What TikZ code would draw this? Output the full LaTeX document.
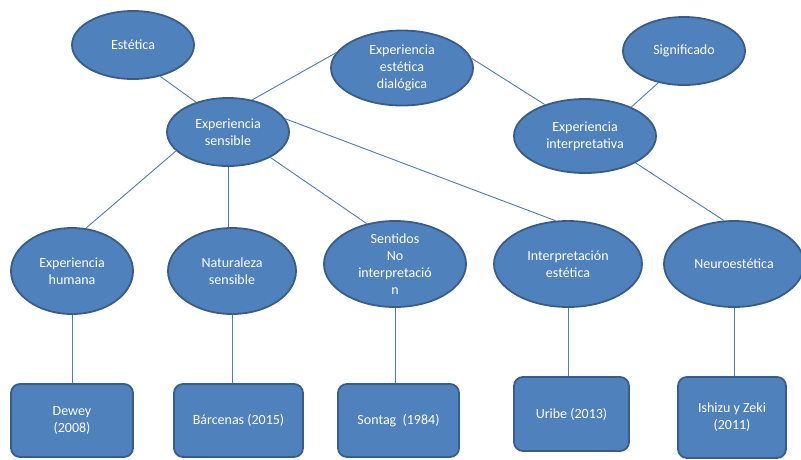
\documentclass[tikz,border=0pt]{standalone}
\usepackage{fontspec}
\setmainfont{Carlito}
\usetikzlibrary{shapes.geometric}
\definecolor{fillblue}{HTML}{4F81BD}
\definecolor{edgeblue}{HTML}{385D8A}
\definecolor{linkblue}{HTML}{4A7EBB}
\begin{document}
\begin{tikzpicture}[x=1pt,y=-1pt,
 every node/.style={text=white,font=\fontsize{14}{17}\selectfont,align=center,inner sep=0pt},
 oval/.style={ellipse,fill=fillblue,draw=edgeblue,line width=1.8pt},
 card/.style={rectangle,rounded corners=9pt,fill=fillblue,draw=edgeblue,line width=1.8pt},
 link/.style={draw=linkblue,line width=0.9pt}]
\useasboundingbox (0,0) rectangle (801,459);
% ovals
\node[oval,minimum width=122,minimum height=68,label=center:{Estética}] (est) at (133,45) {};
\node[oval,minimum width=142,minimum height=75,label=center:{Experiencia\\estética\\dialógica}] (dia) at (402,68) {};
\node[oval,minimum width=122,minimum height=68,label=center:{Experiencia\\sensible}] (sens) at (228,132) {};
\node[oval,minimum width=122,minimum height=68,label=center:{Significado}] (sig) at (684,51) {};
\node[oval,minimum width=142,minimum height=74,label=center:{Experiencia\\interpretativa}] (inter) at (585,136) {};
\node[oval,minimum width=122,minimum height=86,label=center:{Experiencia\\humana}] (hum) at (72,271) {};
\node[oval,minimum width=128,minimum height=86,label=center:{Naturaleza\\sensible}] (nat) at (232,271) {};
\node[oval,minimum width=142,minimum height=86,label=center:{Sentidos\\No\\interpretació\\n}] (sen) at (395,264) {};
\node[oval,minimum width=148,minimum height=86,label=center:{Interpretación\\estética}] (ies) at (568,264) {};
\node[oval,minimum width=140,minimum height=86,label=center:{Neuroestética}] (neu) at (734,264) {};
% boxes
\node[card,minimum width=122,minimum height=73] (dew) at (72,420.5) {Dewey\\(2008)};
\node[card,minimum width=129,minimum height=73] (bar) at (238.5,420.5) {Bárcenas (2015)};
\node[card,minimum width=121,minimum height=73] (son) at (398.5,420.5) {Sontag~ (1984)};
\node[card,minimum width=115,minimum height=74] (uri) at (571.5,414) {Uribe (2013)};
\node[card,minimum width=108,minimum height=81] (ish) at (732,417.5) {Ishizu y Zeki\\(2011)};
% links
\draw[link] (est.-49) -- (sens.137);
\draw[link] (sens.53) -- (dia.167);
\draw[link] (dia.8) -- (inter.142);
\draw[link] (sig.231) -- (inter.32);
\draw[link] (sens.13) -- (ies.106);
\draw[link] (inter.-28) -- (neu.103);
\draw[link] (sens.200) -- (hum.72);
\draw[link] (sens.south) -- (sens.south |- nat.north);
\draw[link] (sens.-31) -- (sen.125);
\draw[link] (hum.south) -- (dew.north);
\draw[link] (nat.south) -- (nat.south |- bar.north);
\draw[link] (sen.south) -- (sen.south |- son.north);
\draw[link] (ies.south) -- (ies.south |- uri.north);
\draw[link] (neu.south) -- (neu.south |- ish.north);
\end{tikzpicture}
\end{document}
